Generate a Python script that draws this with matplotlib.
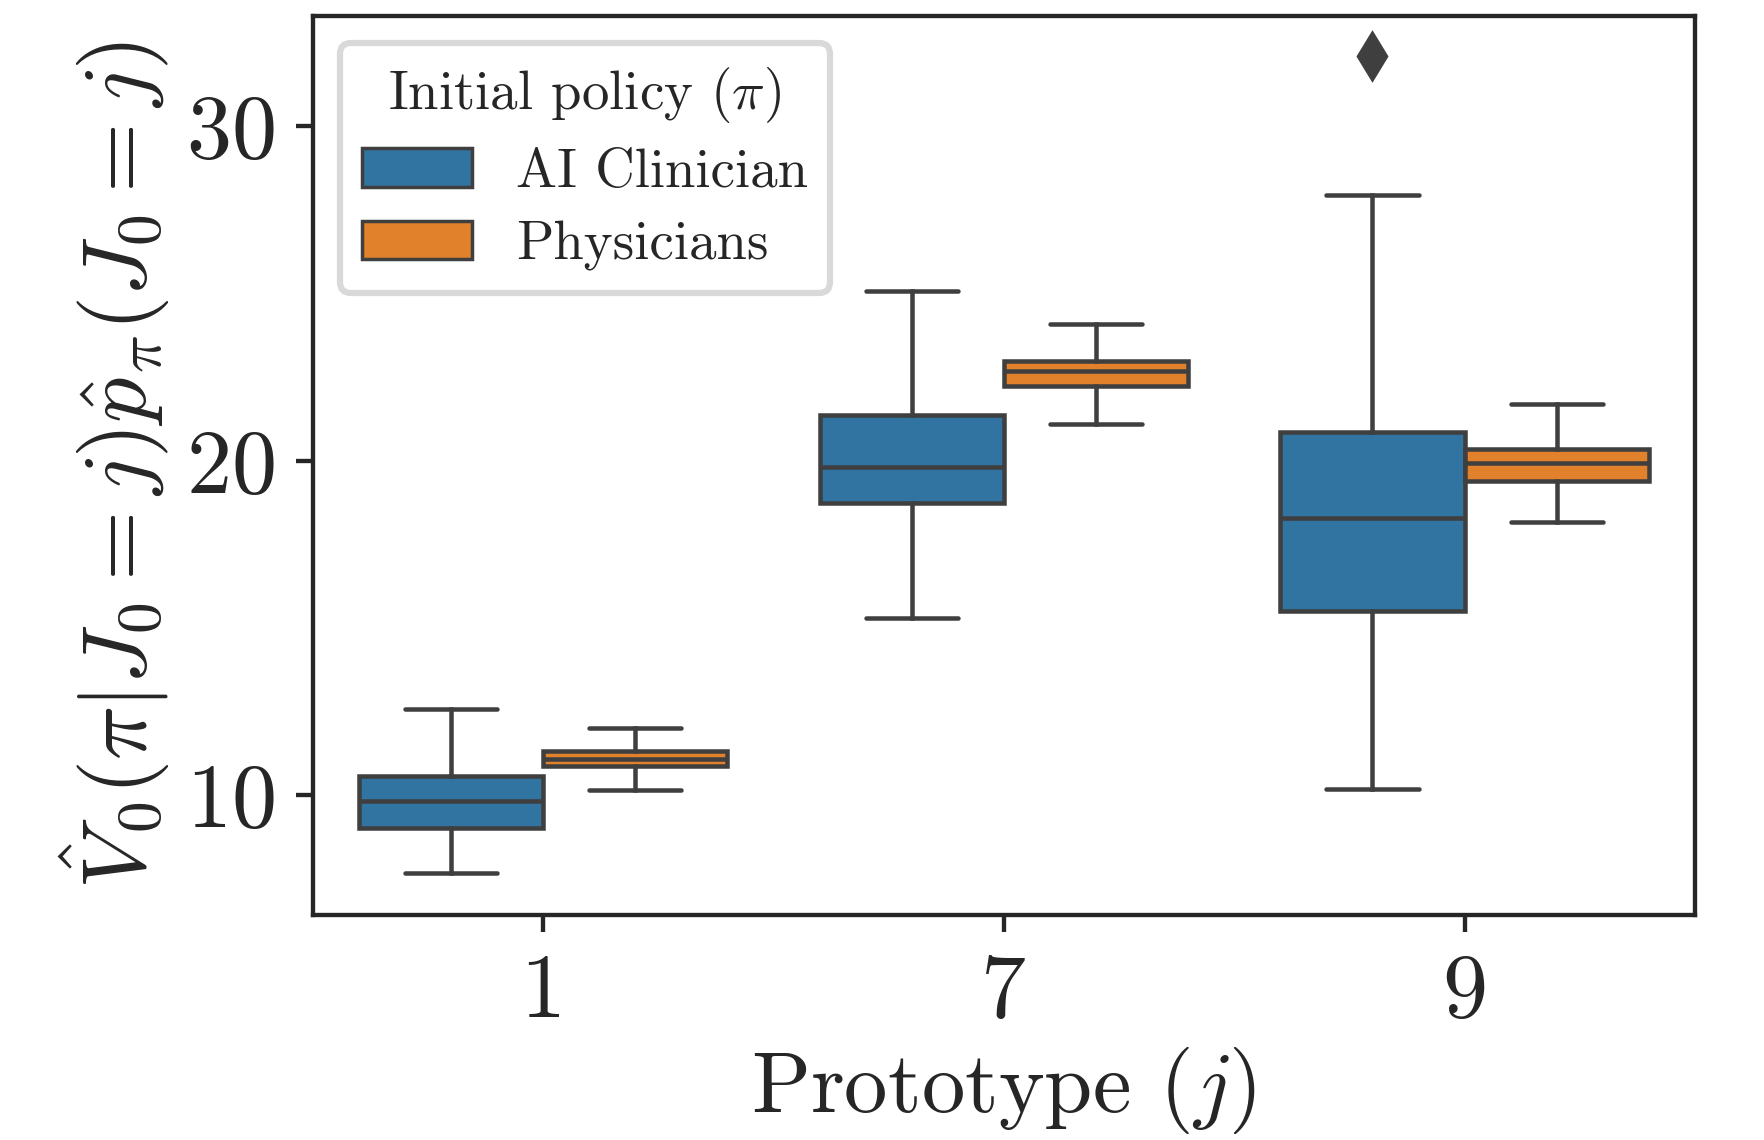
import matplotlib
matplotlib.use("Agg")
import matplotlib.pyplot as plt
from matplotlib.patches import Patch

plt.rcParams["font.family"] = ["cmr10"]
plt.rcParams["mathtext.fontset"] = "cm"
plt.rcParams["axes.formatter.use_mathtext"] = True

# Data
prototypes = ["1", "7", "9"]
policies = ["AI Clinician", "Physicians"]
colors = ["#3274a1", "#e1812c"]

ai_whislo = [7.68, 15.31, 10.20]
ai_q1 = [9.03, 18.74, 15.51]
ai_med = [9.83, 19.82, 18.30]
ai_q3 = [10.57, 21.36, 20.86]
ai_whishi = [12.59, 25.06, 27.95]
ai_fliers = [[], [], [32.08]]

ph_whislo = [10.17, 21.09, 18.17]
ph_q1 = [10.87, 22.24, 19.38]
ph_med = [11.08, 22.67, 19.92]
ph_q3 = [11.34, 22.97, 20.35]
ph_whishi = [12.02, 24.08, 21.70]
ph_fliers = [[], [], []]

series = [
    (ai_whislo, ai_q1, ai_med, ai_q3, ai_whishi, ai_fliers),
    (ph_whislo, ph_q1, ph_med, ph_q3, ph_whishi, ph_fliers),
]

fig = plt.figure(figsize=(7.056, 4.56), dpi=250)
ax = fig.add_axes([0.1773, 0.1977, 0.7836, 0.7885])

edge = "#3f3f3f"
width = 0.4
for k, (lo, q1, med, q3, hi, fl) in enumerate(series):
    stats = []
    for i in range(len(prototypes)):
        stats.append(dict(whislo=lo[i], q1=q1[i], med=med[i], q3=q3[i],
                          whishi=hi[i], fliers=fl[i]))
    pos = [i - 0.2 + 0.4 * k for i in range(len(prototypes))]
    ax.bxp(stats, positions=pos, widths=width, patch_artist=True,
           manage_ticks=False,
           boxprops=dict(facecolor=colors[k], edgecolor=edge, linewidth=1.3),
           medianprops=dict(color=edge, linewidth=1.3),
           whiskerprops=dict(color=edge, linewidth=1.3),
           capprops=dict(color=edge, linewidth=1.3, solid_capstyle="round"),
           flierprops=dict(marker="d", markerfacecolor=edge, markeredgecolor=edge,
                           markersize=9.5))

ax.set_xlim(-0.5, len(prototypes) - 0.5)
ax.set_ylim(6.44, 33.29)
ax.set_xticks(range(len(prototypes)))
ax.set_xticklabels(prototypes)
ax.set_yticks([10, 20, 30])

for s in ax.spines.values():
    s.set_linewidth(1.25)
    s.set_color("#262626")
ax.tick_params(axis="both", labelsize=26, length=5, width=1.25, color="#262626",
               labelcolor="#262626", pad=6)

ax.set_xlabel(r"Prototype ($j$)", fontsize=25, color="#262626", labelpad=3)
ax.set_ylabel(r"$\hat{V}_0(\pi|J_0 = j)\hat{p}_\pi(J_0 = j)$", fontsize=26,
              color="#262626", labelpad=4)

handles = [Patch(facecolor=colors[i], edgecolor=edge, linewidth=1.0, label=policies[i])
           for i in range(len(policies))]
leg = ax.legend(handles=handles, title=r"Initial policy ($\pi$)", loc="upper left",
                fontsize=15.8, title_fontsize=15.8, frameon=True, fancybox=True,
                borderaxespad=0.5, labelspacing=0.42, handletextpad=0.8)
leg.get_frame().set_edgecolor("#d0d0d0")
leg.get_frame().set_linewidth(1.8)
for t in leg.get_texts():
    t.set_color("#262626")
leg.get_title().set_color("#262626")

fig.savefig("out.png", dpi=250)
